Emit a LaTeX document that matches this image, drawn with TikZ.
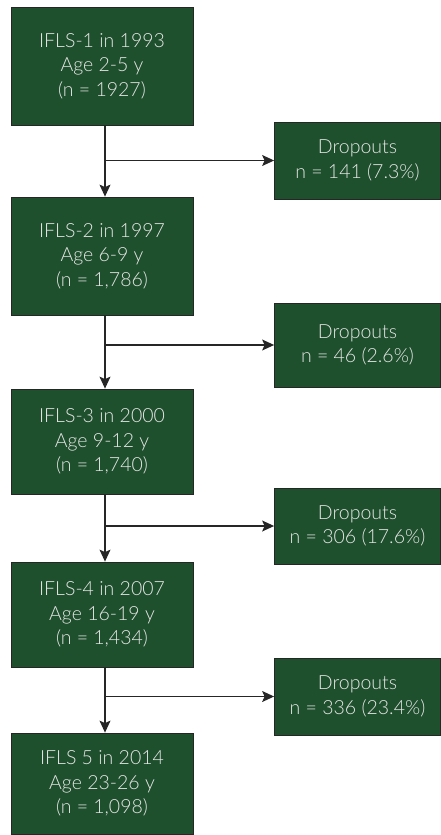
\documentclass[tikz,border=0pt]{standalone}
\usepackage{fontspec}
\setmainfont{Lato Light}
\usetikzlibrary{arrows.meta}

\definecolor{wavegreen}{RGB}{31,80,45}
\definecolor{wavetext}{RGB}{230,230,230}

\begin{document}
\begin{tikzpicture}[x=1pt,y=-1pt,
  wave/.style={draw=black!85,line width=0.8pt,fill=wavegreen,text=wavetext,
    align=center,inner sep=0pt,font=\fontsize{19.5}{24.5}\selectfont},
  flow/.style={draw=black!85,line width=1.1pt,-{Stealth[length=12pt,width=11pt,inset=2.5pt]}}]
\useasboundingbox (0,0) rectangle (441,835);

% survey waves
\node[wave,minimum width=182pt,minimum height=118pt] (ifls1) at (102,66) {IFLS-1 in 1993\\Age 2-5 y\\(n = 1927)};
\node[wave,minimum width=182pt,minimum height=118pt] (ifls2) at (102,256) {IFLS-2 in 1997\\Age 6-9 y\\(n = 1,786)};
\node[wave,minimum width=182pt,minimum height=105pt] (ifls3) at (102,441.5) {IFLS-3 in 2000\\Age 9-12 y\\(n = 1,740)};
\node[wave,minimum width=182pt,minimum height=105pt] (ifls4) at (102,614.5) {IFLS-4 in 2007\\Age 16-19 y\\(n = 1,434)};
\node[wave,minimum width=182pt,minimum height=101pt] (ifls5) at (102,783.5) {IFLS 5 in 2014\\Age 23-26 y\\(n = 1,098)};

% dropouts
\node[wave,minimum width=166pt,minimum height=77pt] (drop1) at (357.5,160.5) {Dropouts\\n = 141 (7.3\%)};
\node[wave,minimum width=166pt,minimum height=84pt] (drop2) at (357.5,345) {Dropouts\\n = 46 (2.6\%)};
\node[wave,minimum width=166pt,minimum height=76pt] (drop3) at (357.5,526) {Dropouts\\n = 306 (17.6\%)};
\node[wave,minimum width=166pt,minimum height=77pt] (drop4) at (357.5,696.5) {Dropouts\\n = 336 (23.4\%)};

\coordinate (fork1) at (105,160.5);
\coordinate (fork2) at (105,345);
\coordinate (fork3) at (105,526);
\coordinate (fork4) at (105,696.5);

\draw[flow] (ifls1.south -| fork1) -- (ifls2.north -| fork1);
\draw[flow] (fork1) -- (drop1.west);

\draw[flow] (ifls2.south -| fork2) -- (ifls3.north -| fork2);
\draw[flow] (fork2) -- (drop2.west);

\draw[flow] (ifls3.south -| fork3) -- (ifls4.north -| fork3);
\draw[flow] (fork3) -- (drop3.west);

\draw[flow] (ifls4.south -| fork4) -- (ifls5.north -| fork4);
\draw[flow] (fork4) -- (drop4.west);

\end{tikzpicture}
\end{document}
